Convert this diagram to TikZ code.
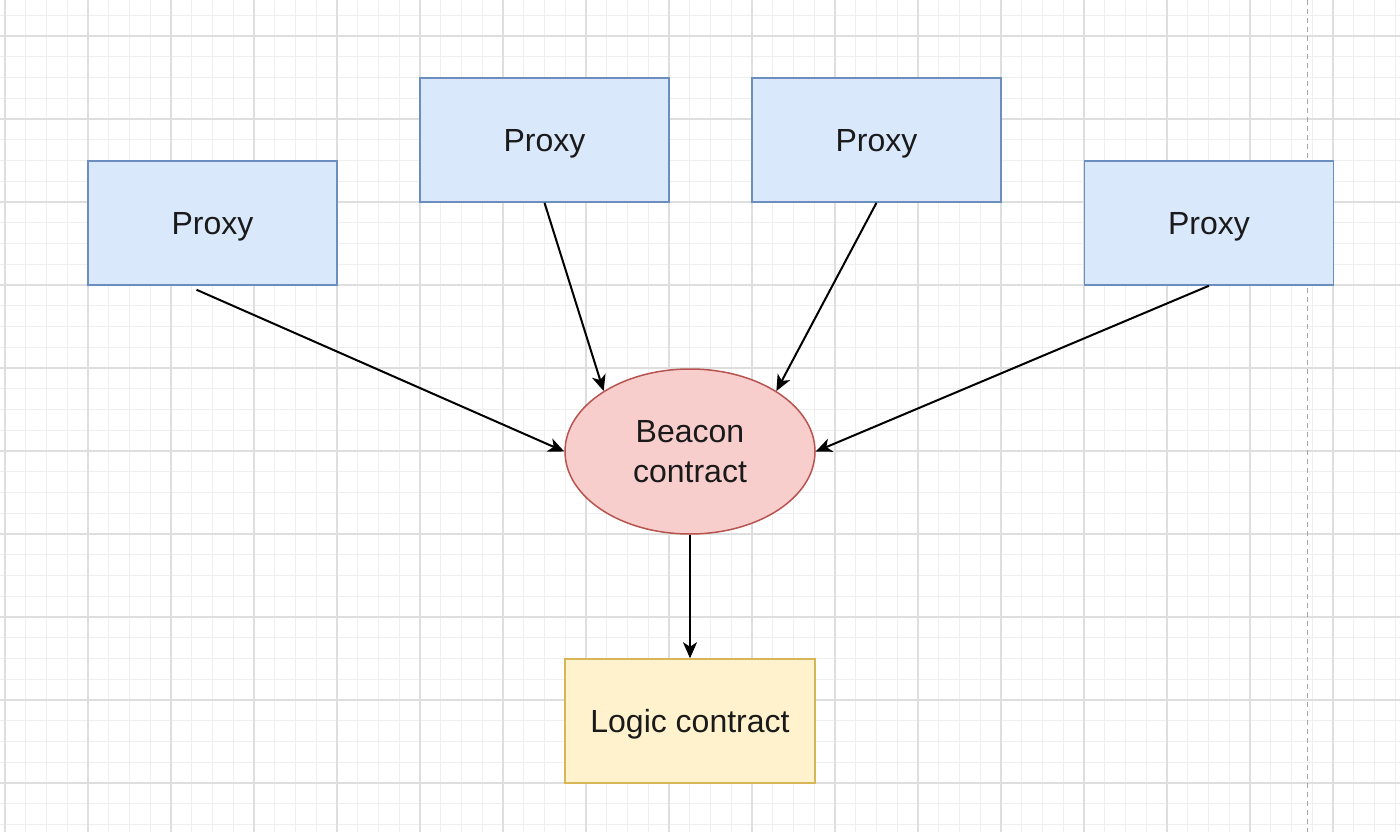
\documentclass[tikz,border=0pt]{standalone}
\usepackage{fontspec}
\setmainfont{Liberation Sans}
\usetikzlibrary{shapes.geometric,arrows.meta}
\definecolor{bluefill}{HTML}{DAE8FC}
\definecolor{bluedraw}{HTML}{6C8EBF}
\definecolor{redfill}{HTML}{F8CECC}
\definecolor{reddraw}{HTML}{B85450}
\definecolor{yelfill}{HTML}{FFF2CC}
\definecolor{yeldraw}{HTML}{D6B656}
\definecolor{gridmajor}{HTML}{DEDEDE}
\definecolor{gridminor}{HTML}{EFEFEF}
\definecolor{txt}{HTML}{1A1A1A}
\tikzset{
  proxybox/.style={draw=bluedraw, fill=bluefill, line width=1.5pt, minimum width=249pt, minimum height=124pt, inner sep=0pt, text height=23pt, text depth=0pt, text=txt, font=\fontsize{32}{40}\selectfont},
  beacon/.style={ellipse, draw=reddraw, fill=redfill, line width=1.5pt, minimum width=250pt, minimum height=165pt, inner sep=0pt, text=txt, align=center, font=\fontsize{32}{40}\selectfont},
  logicbox/.style={draw=yeldraw, fill=yelfill, line width=1.5pt, minimum width=250pt, minimum height=124pt, inner sep=0pt, text height=23pt, text depth=0pt, text=txt, font=\fontsize{32}{40}\selectfont},
  conn/.style={line width=2pt, black, -{Stealth[length=16pt,width=14pt,inset=4.5pt]}},
}
\begin{document}
\begin{tikzpicture}[x=1pt,y=-1pt]
\useasboundingbox (0,0) rectangle (1400,832);
\fill[white] (0,0) rectangle (1400,832);
% minor grid
\foreach \k in {0,...,68} {
  \draw[gridminor, line width=1.2pt] ({5+20.75*\k},0) -- ({5+20.75*\k},832);
}
\foreach \k in {-2,...,40} {
  \draw[gridminor, line width=1.2pt] (0,{36+20.75*\k}) -- (1400,{36+20.75*\k});
}
% major grid
\foreach \k in {0,...,16} {
  \draw[gridmajor, line width=1.3pt] ({5+83*\k},0) -- ({5+83*\k},832);
}
\foreach \k in {0,...,9} {
  \draw[gridmajor, line width=1.3pt] (0,{36+83*\k}) -- (1400,{36+83*\k});
}
% page break line
\draw[gray!70, line width=1pt, dash pattern=on 5pt off 4pt] (1307,0) -- (1307,832);

% nodes
\node[proxybox] (p1) at (212.5,223) {Proxy};
\node[proxybox] (p2) at (544.5,140) {Proxy};
\node[proxybox] (p3) at (876.5,140) {Proxy};
\node[proxybox] (p4) at (1209,223) {Proxy};
\node[beacon] (b) at (690,451.5) {Beacon\\contract};
\node[logicbox] (l) at (690,721) {Logic contract};

% connectors
\draw[conn] ([xshift=-16pt,yshift=-4pt]p1.south) -- (b.west);
\draw[conn] (p2.south) -- (b.145);
\draw[conn] (p3.south) -- (b.35);
\draw[conn] (p4.south) -- (b.east);
\draw[conn] (b.south) -- (l.north);
\end{tikzpicture}
\end{document}
